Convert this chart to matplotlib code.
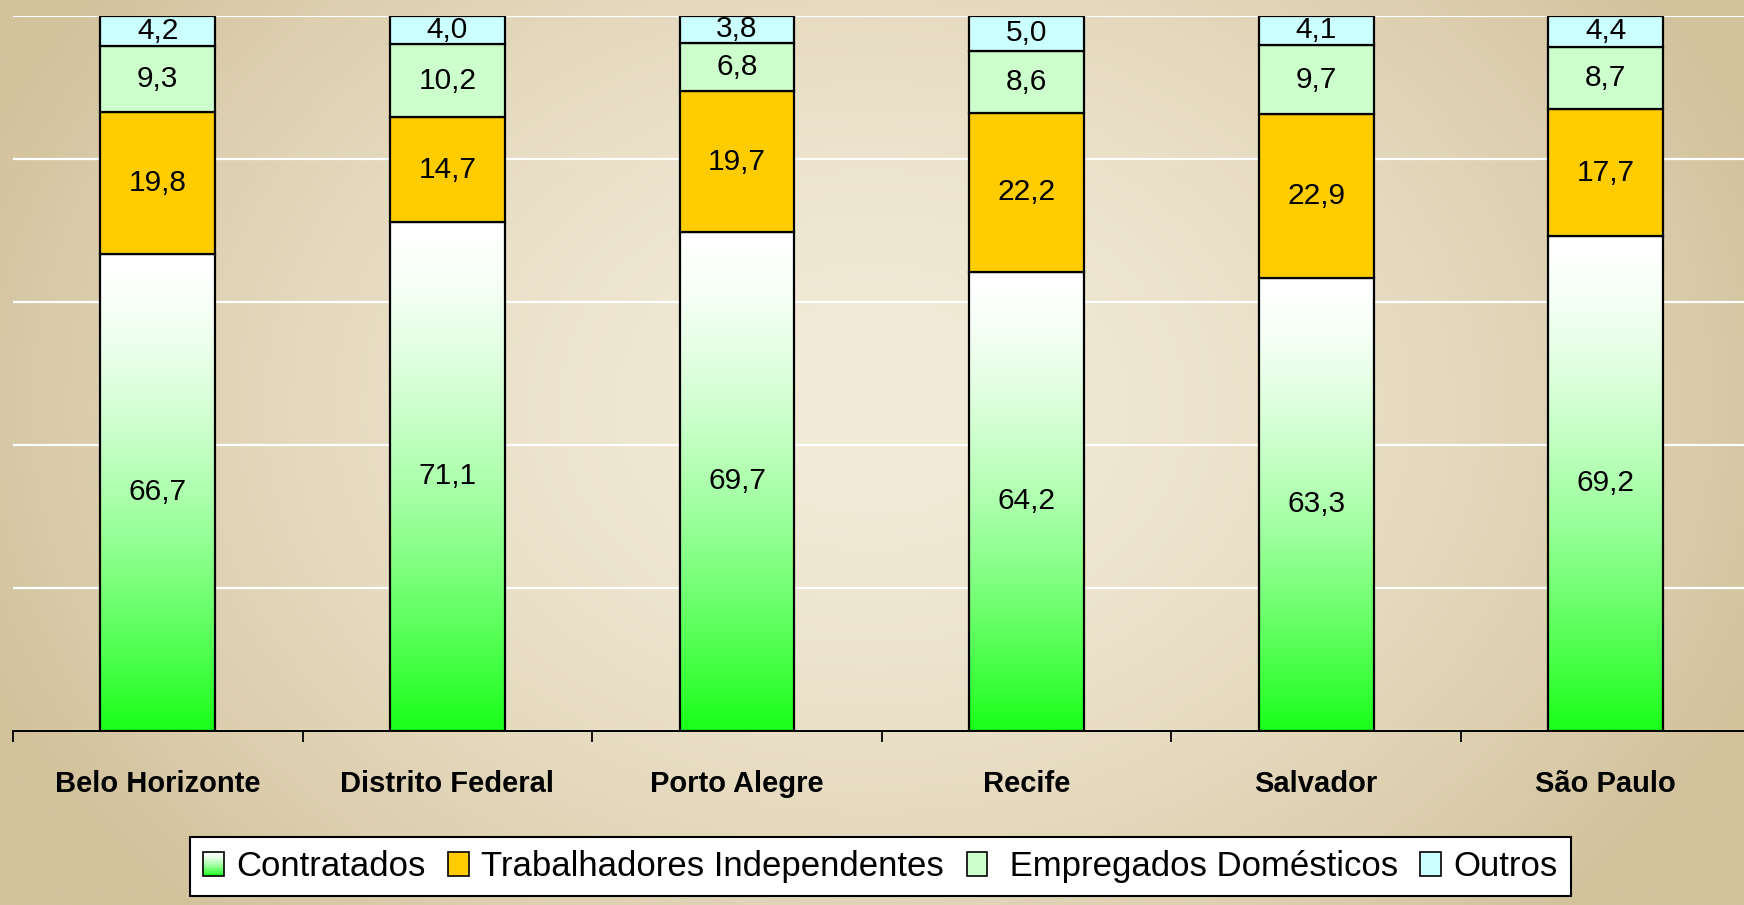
import numpy as np
import matplotlib
matplotlib.use('Agg')
import matplotlib.pyplot as plt
from matplotlib.patches import Rectangle, Patch
from matplotlib.legend_handler import HandlerBase
from matplotlib.colors import to_rgb

# ---- data ----
cities = ['Belo Horizonte', 'Distrito Federal', 'Porto Alegre', 'Recife', 'Salvador', 'São Paulo']
contratados = [66.7, 71.1, 69.7, 64.2, 63.3, 69.2]
independentes = [19.8, 14.7, 19.7, 22.2, 22.9, 17.7]
domesticos = [9.3, 10.2, 6.8, 8.6, 9.7, 8.7]
outros = [4.2, 4.0, 3.8, 5.0, 4.1, 4.4]
series_names = ['Contratados', 'Trabalhadores Independentes', ' Empregados Domésticos', 'Outros']
gridticks = [0, 20, 40, 60, 80, 100]

plt.rcParams['font.family'] = ['Liberation Sans', 'DejaVu Sans']

W, H = 1744, 905
fig = plt.figure(figsize=(W / 100, H / 100), dpi=100)

# ---- background gradient ----
bg = fig.add_axes([0, 0, 1, 1], zorder=-10)
bg.set_axis_off()
yy, xx = np.mgrid[0:1:300j, 0:1:600j]
d = np.sqrt(((xx - 0.5) / 0.55) ** 2 + ((yy - 0.45) / 0.8) ** 2)
d = np.clip(d, 0, 1) ** 1.6
c_center = np.array(to_rgb('#F3EBD8'))
c_edge = np.array(to_rgb('#D2C29C'))
bgimg = c_center + (c_edge - c_center) * d[..., None]
bg.imshow(bgimg, extent=[0, 1, 0, 1], aspect='auto', origin='upper')
bg.set_xlim(0, 1)
bg.set_ylim(0, 1)

# ---- main axes ----
ax = fig.add_axes([13 / W, 174.3 / H, 1737.6 / W, 715.1 / H], zorder=1)
ax.set_facecolor('none')

x = np.arange(len(cities))
width = 0.397
green = np.array([0.1, 1.0, 0.1])
white = np.array([1.0, 1.0, 1.0])


def grad_color(t):
    f = np.asarray(t, dtype=float)[..., None] ** 1.5
    return white * (1 - f) + green * f


tt = np.linspace(0, 1, 256)
grad_img = grad_color(tt).reshape(256, 1, 3)

ec = 'black'
lw = 1.6

# Contratados (gradient)
bars_c = ax.bar(x, contratados, width, color='none', edgecolor=ec, linewidth=lw, zorder=3)
for xi, v, p in zip(x, contratados, bars_c):
    im = ax.imshow(grad_img, extent=[xi - width / 2, xi + width / 2, 0, v],
                   aspect='auto', origin='upper', zorder=2.9, interpolation='bilinear')
    im.set_clip_path(p)

bottom = np.array(contratados, dtype=float)
colors = ['#FFCC00', '#CCFFCC', '#CCFFFF']
for vals, col in zip([independentes, domesticos, outros], colors):
    ax.bar(x, vals, width, bottom=bottom, color=col, edgecolor=ec, linewidth=lw, zorder=3)
    bottom = bottom + np.array(vals)

# labels
bottom = np.zeros(len(cities))
for vals in [contratados, independentes, domesticos, outros]:
    for xi, b, v in zip(x, bottom, vals):
        ax.text(xi, b + v / 2, f"{v:.1f}".replace('.', ','), ha='center', va='center',
                fontsize=21.5, zorder=5, color='black')
    bottom = bottom + np.array(vals)

ax.set_xlim(-0.5, 5.5)
ax.set_ylim(0, 100)

# grid
ax.set_yticks(gridticks)
ax.yaxis.grid(True, color='white', linewidth=1.6)
ax.set_axisbelow(True)
ax.tick_params(axis='y', length=0, labelleft=False)

# x axis
ax.set_xticks(x)
ax.set_xticklabels(cities, fontweight='bold', fontsize=21)
ax.set_xticks(np.arange(-0.5, 6.0, 1.0), minor=True)
ax.tick_params(axis='x', which='major', length=0, pad=28)
ax.tick_params(axis='x', which='minor', length=8, width=1.3, color='black', direction='out')
for s in ['left', 'right', 'top']:
    ax.spines[s].set_visible(False)
ax.spines['bottom'].set_color('black')
ax.spines['bottom'].set_linewidth(1.4)


# ---- legend ----
class GradHandler(HandlerBase):
    def create_artists(self, legend, orig_handle, xdescent, ydescent, width, height, fontsize, trans):
        arts = []
        n = 16
        for k in range(n):
            t = (k + 0.5) / n
            r = Rectangle((-xdescent, -ydescent + height * (1 - (k + 1) / n)), width, height / n,
                          facecolor=grad_color(t), edgecolor='none', transform=trans)
            arts.append(r)
        outline = Rectangle((-xdescent, -ydescent), width, height, facecolor='none',
                            edgecolor='black', linewidth=1.2, transform=trans)
        arts.append(outline)
        return arts


proxy = Patch(facecolor='#80FF80', edgecolor='black')
handles = [proxy] + [Patch(facecolor=c, edgecolor='black', linewidth=1.2) for c in colors]
leg = fig.legend(handles, series_names, loc='center',
                 bbox_to_anchor=(880.5 / W, 1 - 866.5 / H), ncol=4, fontsize=25,
                 frameon=True, fancybox=False, edgecolor='black', facecolor='white',
                 framealpha=1, handlelength=0.6, handleheight=0.7, handletextpad=0.35,
                 columnspacing=0.65, borderpad=0.38, borderaxespad=0,
                 handler_map={proxy: GradHandler()})
leg.get_frame().set_linewidth(1.5)

fig.savefig('out.png', dpi=100)
